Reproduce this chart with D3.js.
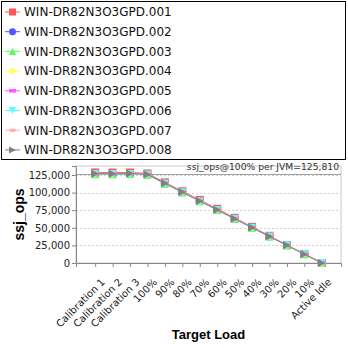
<!DOCTYPE html>
<html><head><meta charset="utf-8">
<script src="https://cdn.jsdelivr.net/npm/d3@7"></script>
<style>body{margin:0;background:#fff}svg{display:block}</style>
</head><body>
<script>
const categories = ["Calibration 1","Calibration 2","Calibration 3","100%","90%","80%","70%","60%","50%","40%","30%","20%","10%","Active Idle"];
const seriesNames = ["WIN-DR82N3O3GPD.001","WIN-DR82N3O3GPD.002","WIN-DR82N3O3GPD.003","WIN-DR82N3O3GPD.004","WIN-DR82N3O3GPD.005","WIN-DR82N3O3GPD.006","WIN-DR82N3O3GPD.007","WIN-DR82N3O3GPD.008"];
const s001 = [128600,128500,128600,127200,114600,101900,89700,76900,64200,51400,38600,25600,12900,0];
const s002 = [126800,126600,126900,125700,113100,100600,88100,75500,62900,50300,37700,25100,12600,0];
const s003 = [126200,126000,126300,125400,112700,100300,87800,75200,62700,50100,37500,25000,12500,0];
const s004 = [126900,126700,127000,125900,113300,100800,88200,75600,63000,50400,37800,25200,12600,0];
const s005 = [127000,126800,127100,125800,113200,100700,88200,75600,63000,50400,37800,25200,12600,0];
const s006 = [126500,126300,126600,125600,112900,100400,87900,75300,62800,50200,37600,25100,12500,0];
const s007 = [127600,127400,127700,126300,113800,101200,88800,76100,63500,50900,38100,25400,12700,0];
const s008 = [126900,126700,127000,125900,113300,100700,88100,75500,62900,50300,37700,25100,12600,0];
const seriesValues = [s001,s002,s003,s004,s005,s006,s007,s008];
const colors = ["#ff5555","#5555ff","#55ff55","#ffff55","#ff55ff","#55ffff","#ffafaf","#808080"];
const shapes = ["square","circle","triUp","diamond","hrect","triDown","ellipse","triRight"];
const yTicks = [0,25000,50000,75000,100000,125000];
const refValue = 125810;
const refLabel = "ssj_ops@100% per JVM=125,810";

const W = 348, H = 348;
const svg = d3.select("body").append("svg").attr("width", W).attr("height", H);
const font = "'DejaVu Sans', sans-serif";
const titleFont = "'Liberation Sans', Arial, sans-serif";

function drawShape(g, shape, x, y, color, s) {
  let el;
  switch (shape) {
    case "square": el = g.append("rect").attr("x", x - s).attr("y", y - s).attr("width", 2*s).attr("height", 2*s); break;
    case "circle": el = g.append("circle").attr("cx", x).attr("cy", y).attr("r", s); break;
    case "triUp": el = g.append("path").attr("d", `M${x},${y-s}L${x+s},${y+s}L${x-s},${y+s}Z`); break;
    case "diamond": el = g.append("path").attr("d", `M${x},${y-s}L${x+s},${y}L${x},${y+s}L${x-s},${y}Z`); break;
    case "hrect": el = g.append("rect").attr("x", x - s).attr("y", y - s/2).attr("width", 2*s).attr("height", s); break;
    case "triDown": el = g.append("path").attr("d", `M${x-s},${y-s}L${x+s},${y-s}L${x},${y+s}Z`); break;
    case "ellipse": el = g.append("ellipse").attr("cx", x).attr("cy", y).attr("rx", s).attr("ry", s/2); break;
    case "triRight": el = g.append("path").attr("d", `M${x-s},${y-s}L${x+s},${y}L${x-s},${y+s}Z`); break;
  }
  el.attr("fill", color);
}

// Legend
const lg = svg.append("g");
lg.append("rect").attr("x", 1.5).attr("y", 1.5).attr("width", 344).attr("height", 158)
  .attr("fill", "#fff").attr("stroke", "#000").attr("stroke-width", 1);
seriesNames.forEach((name, i) => {
  const y = 12 + i * 19.7;
  lg.append("line").attr("x1", 5).attr("x2", 20).attr("y1", y).attr("y2", y).attr("stroke", colors[i]).attr("stroke-width", 1);
  drawShape(lg, shapes[i], 12.5, y, colors[i], 3.5);
  lg.append("text").attr("x", 24).attr("y", y).attr("dy", "0.36em").attr("font-family", font)
    .attr("font-size", 12).attr("fill", "#111").text(name);
});

// Plot
const pl = 76, pr = 341, pt = 166, pb = 263;
const x = d3.scalePoint().domain(categories).range([pl, pr]).padding(1.1);
const y = d3.scaleLinear().domain([0, 137800]).range([pb, pt]);

svg.append("rect").attr("x", pl).attr("y", pt).attr("width", pr - pl).attr("height", pb - pt)
  .attr("fill", "#fff").attr("stroke", "#c8c8c8");

// gridlines
svg.append("g").selectAll("line").data(yTicks.filter(d => d > 0)).join("line")
  .attr("x1", pl).attr("x2", pr).attr("y1", d => Math.round(y(d)) + 0.5).attr("y2", d => Math.round(y(d)) + 0.5)
  .attr("stroke", "#d0d0d0").attr("stroke-dasharray", "2,2");

// reference line
svg.append("line").attr("x1", pl).attr("x2", pr).attr("y1", Math.round(y(refValue)) + 0.5).attr("y2", Math.round(y(refValue)) + 0.5)
  .attr("stroke", "#a0a0a0");
svg.append("text").attr("x", pr - 2).attr("y", 170).attr("text-anchor", "end").attr("font-family", font)
  .attr("font-size", 9.2).attr("fill", "#333").text(refLabel);

// axes
const yAxis = svg.append("g").attr("transform", `translate(${pl},0)`)
  .call(d3.axisLeft(y).tickValues(yTicks).tickFormat(d3.format(",")).tickSize(4).tickPadding(2));
yAxis.select(".domain").attr("stroke", "#888");
yAxis.selectAll(".tick line").attr("stroke", "#888");
yAxis.selectAll("text").attr("font-family", font).attr("font-size", 10).attr("fill", "#222");

const xAxis = svg.append("g").attr("transform", `translate(0,${pb})`)
  .call(d3.axisBottom(x).tickSize(4).tickPadding(2));
xAxis.select(".domain").attr("stroke", "#888");
xAxis.selectAll(".tick line").attr("stroke", "#888");
xAxis.selectAll("text").attr("font-family", font).attr("font-size", 10).attr("fill", "#222")
  .attr("text-anchor", "end").attr("dy", "0.35em")
  .attr("transform", "translate(3,13) rotate(-45)");

// series
const line = d3.line().x((d, i) => x(categories[i])).y(d => y(d));
seriesValues.forEach((vals, si) => {
  const g = svg.append("g");
  g.append("path").attr("d", line(vals)).attr("fill", "none").attr("stroke", colors[si]).attr("stroke-width", 1);
  vals.forEach((v, i) => drawShape(g, shapes[si], x(categories[i]), y(v), colors[si], 4));
});

// axis titles
svg.append("text").attr("transform", `translate(24,${(pt + pb) / 2}) rotate(-90)`).attr("text-anchor", "middle")
  .attr("font-family", titleFont).attr("font-weight", "bold").attr("font-size", 14).attr("fill", "#000").text("ssj_ops");
svg.append("text").attr("x", (pl + pr) / 2).attr("y", 339).attr("text-anchor", "middle")
  .attr("font-family", titleFont).attr("font-weight", "bold").attr("font-size", 13).attr("fill", "#000").text("Target Load");
</script>
</body></html>
